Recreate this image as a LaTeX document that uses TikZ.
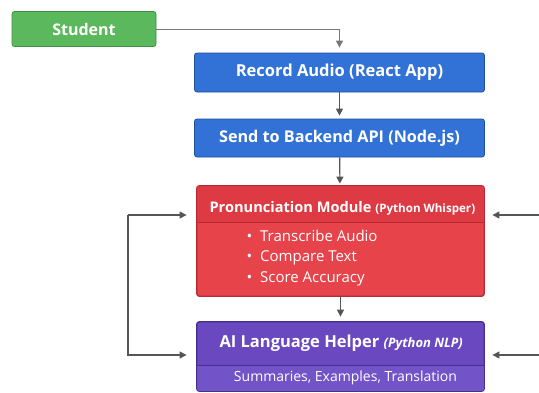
\documentclass[tikz,border=0pt]{standalone}
\usepackage{fontspec}
\setmainfont{Open Sans}
\usepackage{xcolor}
\usepackage{tikz}
\usetikzlibrary{calc,arrows.meta}
\definecolor{green}{HTML}{5CB85C}
\definecolor{greenEdge}{HTML}{3F8F3F}
\definecolor{blue}{HTML}{3272D6}
\definecolor{blueEdge}{HTML}{1F4E9C}
\definecolor{red}{HTML}{E6434B}
\definecolor{redHead}{HTML}{DE3A43}
\definecolor{redEdge}{HTML}{B52A33}
\definecolor{purple}{HTML}{6A49C0}
\definecolor{purpleFoot}{HTML}{7354C8}
\definecolor{purpleEdge}{HTML}{45308F}
\definecolor{arrowGray}{HTML}{555555}
\tikzset{
  box/.style={rounded corners=2.5pt, line width=0.8pt, inner sep=0pt},
  greenBox/.style={box, fill=green, draw=greenEdge},
  blueBox/.style={box, fill=blue, draw=blueEdge},
  redBox/.style={box, fill=red, draw=redEdge},
  purpleBox/.style={box, fill=purple, draw=purpleEdge},
  boxText/.style={text=white, font=\bfseries\fontsize{16.2}{18}\selectfont},
  itemText/.style={text=white, font=\fontsize{15}{17}\selectfont, anchor=west},
  flow/.style={-{Triangle[length=7pt,width=7pt]}, draw=arrowGray, line width=1.2pt},
  divider/.style={line width=0.8pt}
}

\begin{document}
\begin{tikzpicture}[x=1pt,y=-1pt]
  \useasboundingbox (0,0) rectangle (539,392);

  % boxes
  \node[greenBox, minimum width=144pt, minimum height=35pt] (student) at (84,29) {};
  \node[boxText, font=\bfseries\fontsize{16}{18}\selectfont] (studentLab) at (student.center) {Student};

  \node[blueBox, minimum width=290pt, minimum height=39pt] (record) at (339.5,72.5) {};
  \node[boxText, font=\bfseries\fontsize{16.5}{18}\selectfont] (recordLab) at (record.center) {Record Audio (React App)};

  \node[blueBox, minimum width=290pt, minimum height=38pt] (send) at (339.5,138) {};
  \node[boxText] (sendLab) at (send.center) {Send to Backend API (Node.js)};

  \node[redBox, minimum width=287pt, minimum height=110pt] (pron) at (340.5,241) {};
  \begin{scope}
    \clip[rounded corners=2.5pt] (pron.north west) rectangle (pron.south east);
    \fill[redHead] (pron.north west) rectangle ($(pron.north east)+(0,37)$);
  \end{scope}
  \draw[redEdge, rounded corners=2.5pt, line width=0.8pt] (pron.north west) rectangle (pron.south east);
  \draw[redEdge, divider] ($(pron.north west)+(0,37)$) -- ($(pron.north east)+(0,37)$);
  \node[boxText, anchor=west, font=\bfseries\fontsize{14.6}{17}\selectfont] (pronLab) at (206,208)
    {Pronunciation Module {\fontsize{11.6}{14}\selectfont(Python Whisper)}};
  \node[itemText] (itemA) at (243,236) {\textbullet\hspace{8pt}Transcribe Audio};
  \node[itemText] (itemB) at (243,258) {\textbullet\hspace{8pt}Compare Text};
  \node[itemText] (itemC) at (243,279) {\textbullet\hspace{8pt}Score Accuracy};

  \node[purpleBox, minimum width=287pt, minimum height=69pt] (helper) at (340.5,356.5) {};
  \begin{scope}
    \clip[rounded corners=2.5pt] (helper.north west) rectangle (helper.south east);
    \fill[purpleFoot] ($(helper.north west)+(0,44)$) rectangle (helper.south east);
  \end{scope}
  \draw[purpleEdge, rounded corners=2.5pt, line width=0.8pt] (helper.north west) rectangle (helper.south east);
  \draw[purpleEdge, divider] ($(helper.north west)+(0,44)$) -- ($(helper.north east)+(0,44)$);
  \node[boxText, anchor=west, font=\bfseries\fontsize{16.5}{19}\selectfont] (helperLab) at (216,343)
    {AI Language Helper {\itshape\fontsize{13}{15}\selectfont(Python NLP)}};
  \node[text=white, font=\fontsize{14}{16}\selectfont] (helperSub) at (345.5,377.5)
    {Summaries, Examples, Translation};

  % connectors
  \coordinate (leftBar) at (128,215);
  \coordinate (rightTop) at (539,215);
  \coordinate (rightBot) at (539,355);

  \draw[flow, draw=arrowGray!80, line width=1pt, shorten >=5pt] (student.east) -| (record.north);
  \draw[flow, shorten >=3pt] (record) -- (send);
  \draw[flow, shorten >=2pt] (send) -- (pron);
  \draw[flow, shorten >=5pt] (pron) -- (helper);

  \draw[flow, shorten >=10pt] (leftBar) -- (leftBar -| pron.west);
  \draw[flow, shorten >=10pt] (leftBar) |- (rightBot -| helper.west);
  \draw[flow, shorten >=8pt] (rightTop) -- (rightTop -| pron.east);
  \draw[flow, shorten >=8pt] (rightBot) -- (rightBot -| helper.east);
\end{tikzpicture}
\end{document}
